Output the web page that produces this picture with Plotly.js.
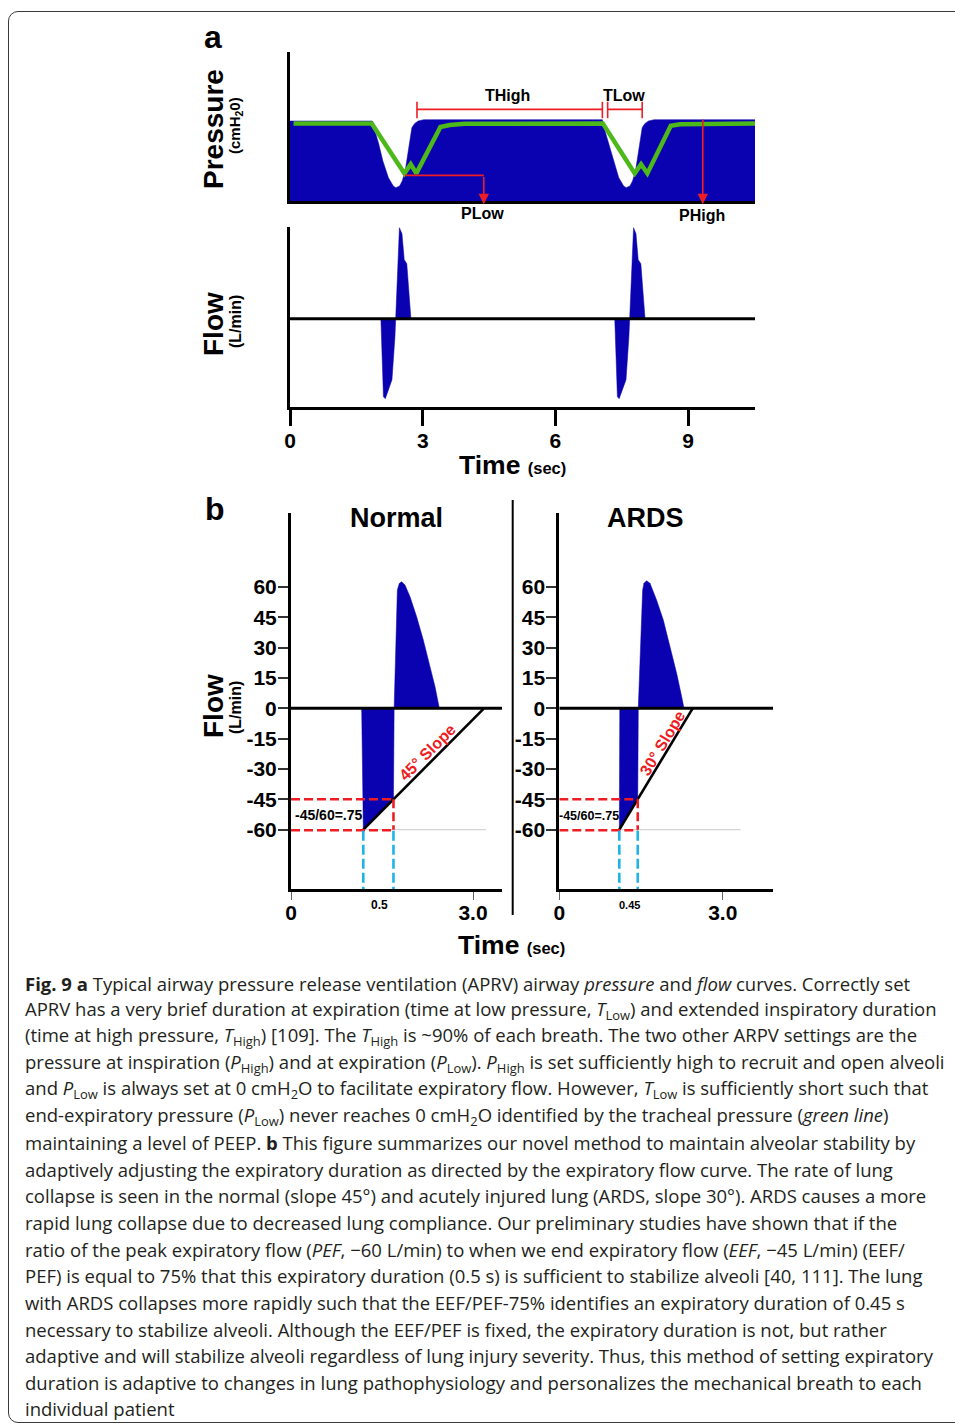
<!DOCTYPE html>
<html><head><meta charset="utf-8">
<script src="https://cdn.plot.ly/plotly-3.0.1.min.js"></script>
<style>
html,body{margin:0;padding:0;background:#fff;overflow:hidden;width:955px;height:1427px;}
#frame{position:absolute;left:8px;top:11px;width:1000px;height:1412px;border:1.5px solid #3a3a3a;border-radius:10px;box-sizing:border-box;}
#chart{position:absolute;left:0;top:0;width:955px;height:1427px;}
</style></head><body>
<div id="frame"></div>
<div id="chart"></div>
<script>
// ---------- Panel a: pressure ----------
const pressTime  = [0, 1.86, 1.92, 2.0, 2.099, 2.225, 2.334, 2.393, 2.477, 2.536, 2.603, 2.662, 2.704, 2.754, 2.813, 2.897, 3.023,
                    7.06, 7.12, 7.2, 7.305, 7.431, 7.54, 7.599, 7.683, 7.742, 7.809, 7.868, 7.91, 7.96, 8.018, 8.103, 8.229, 10.6];
const pressValue = [20, 20, 17.5, 14.5, 10, 5.83, 3.75, 3.33, 3.75, 5, 7.5, 11.67, 15.83, 18.33, 19.33, 20, 20.33,
                    20.33, 17.5, 14.5, 10, 5.83, 3.75, 3.33, 3.75, 5, 7.5, 11.67, 15.83, 18.33, 19.33, 20, 20.33, 20.33];
const trachTime  = [0.08, 1.847, 2.586, 2.729, 2.855, 3.4, 3.61, 3.946, 7.07, 7.792, 7.935, 8.077, 8.606, 8.816, 10.55];
const trachValue = [19.4, 19.4, 6.9, 9.2, 6.9, 18.5, 19.0, 19.3, 19.4, 6.9, 9.2, 6.9, 18.8, 19.2, 19.4];
const tHighSpan = [2.87, 7.06];
const tLowSpan  = [7.18, 7.96];
const spanLevel = 22.9, capTop = 24.8, capBottom = 20.7;
const pLowStart = 2.6, pLowEnd = 4.38, pLowLevel = 6.4;
const pHighTime = 9.33, pHighLevel = 20.75, arrowTip = -0.8;

// ---------- Panel a: flow ----------
const flowTime1  = [2.054, 2.079, 2.112, 2.154, 2.221, 2.305, 2.372, 2.389, 2.473, 2.531, 2.582, 2.640, 2.682, 2.733];
const flowValue1 = [0, -35, -78, -80, -71, -61, -18, 0, 91, 85, 59, 55, 32, 0];
const flowTime2  = [7.34, 7.37, 7.40, 7.44, 7.51, 7.595, 7.66, 7.68, 7.765, 7.82, 7.87, 7.93, 7.97, 8.025];
const flowValue2 = [0, -35, -78, -80, -71, -61, -18, 0, 91, 85, 59, 55, 32, 0];
const timeTicksA = [0, 3, 6, 9];
const timeTickTextA = ['0', '3', '6', '9'];

// ---------- Panel b ----------
const flowTicksB = [60, 45, 30, 15, 0, -15, -30, -45, -60];
const flowTickTextB = ['60', '45', '30', '15', '0', '-15', '-30', '-45', '-60'];
const timeTicksB = [0, 3];
const timeTickTextB = ['0', '3.0'];

const normNegTime = [1.165, 1.192, 1.689, 1.70];
const normNegFlow = [0, -60, -45, 0];
const normPosTime = [1.70, 1.753, 1.786, 1.824, 1.879, 1.962, 2.071, 2.181, 2.291, 2.374, 2.44, 2.445];
const normPosFlow = [0, 58.5, 61.8, 62.6, 61, 55.2, 45.3, 33.8, 20.6, 10.7, 0.8, 0];
const normSlopeTime = [1.192, 3.181];
const normSlopeFlow = [-60, 0];
const normBaseTime = [1.192, 3.214];
const normPEF = {t: 1.192, v: -60}, normEEF = {t: 1.689, v: -45};

const ardsNegTime = [1.11, 1.102, 1.44, 1.45];
const ardsNegFlow = [0, -60, -45, 0];
const ardsPosTime = [1.45, 1.53, 1.554, 1.603, 1.665, 1.787, 1.909, 2.032, 2.154, 2.246, 2.289];
const ardsPosFlow = [0, 58.5, 61.8, 63.1, 61.8, 53.5, 43.7, 30.5, 17.3, 5.8, 0];
const ardsSlopeTime = [1.102, 2.448];
const ardsSlopeFlow = [-60, 0];
const ardsBaseTime = [1.102, 3.329];
const ardsPEF = {t: 1.102, v: -60}, ardsEEF = {t: 1.44, v: -45};

// ---------- styling ----------
const W = 955, H = 1427;
const px = x => x / W, py = y => 1 - y / H;
const BLUE = '#0a02b0', GREEN = '#4cb81a', RED = '#ee1d23', CYAN = '#1fb3e8';
const FONT = 'Liberation Sans, Arial, sans-serif';
const CAPFONT = 'Open Sans, sans-serif';

const xRangeA = [0, 10.51];
const yRangeP = [0, 37.25];
const yRangeFA = [-88.3, 91.7];
const yRangeB = [-89.5, 96.6];
const xRangeN = [0, 3.478];
const xRangeR = [0, 3.923];

const traces = [];
function fillTrace(x, y, xa, ya, fill) {
  return {x, y, xaxis: xa, yaxis: ya, type: 'scatter', mode: 'lines', fill: fill || 'tozeroy',
          fillcolor: BLUE, line: {color: BLUE, width: 0.5}, hoverinfo: 'skip'};
}
function lineTrace(x, y, xa, ya, color, width, dash) {
  return {x, y, xaxis: xa, yaxis: ya, type: 'scatter', mode: 'lines',
          line: {color, width, dash: dash || 'solid'}, hoverinfo: 'skip', cliponaxis: false};
}
traces.push(fillTrace(pressTime, pressValue, 'x', 'y'));
traces.push(lineTrace(trachTime, trachValue, 'x', 'y', GREEN, 4.5));
traces.push(lineTrace([pLowStart, pLowEnd], [pLowLevel, pLowLevel], 'x', 'y', RED, 1.6));
traces.push(fillTrace(flowTime1, flowValue1, 'x2', 'y2'));
traces.push(fillTrace(flowTime2, flowValue2, 'x2', 'y2'));
function panelB(xa, ya, negT, negF, posT, posF, slT, slF, baseT, pef, eef) {
  traces.push(fillTrace(negT, negF, xa, ya, 'toself'));
  traces.push(fillTrace(posT, posF, xa, ya, 'tozeroy'));
  traces.push(lineTrace(baseT, [pef.v, pef.v], xa, ya, '#d4d4d4', 1.2));
  traces.push(lineTrace(slT, slF, xa, ya, '#000', 2.6));
  traces.push(lineTrace([0, eef.t], [eef.v, eef.v], xa, ya, RED, 2.6, '9px,4px'));
  traces.push(lineTrace([0, eef.t], [pef.v - 0.3, pef.v - 0.3], xa, ya, RED, 2.6, '9px,4px'));
  traces.push(lineTrace([eef.t, eef.t], [eef.v, pef.v], xa, ya, RED, 2.6, '9px,4px'));
  traces.push(lineTrace([pef.t, pef.t], [pef.v - 0.5, yRangeB[0]], xa, ya, CYAN, 2.6, '10px,4px'));
  traces.push(lineTrace([eef.t, eef.t], [pef.v - 0.5, yRangeB[0]], xa, ya, CYAN, 2.6, '10px,4px'));
}
panelB('x3', 'y3', normNegTime, normNegFlow, normPosTime, normPosFlow, normSlopeTime, normSlopeFlow, normBaseTime, normPEF, normEEF);
panelB('x4', 'y4', ardsNegTime, ardsNegFlow, ardsPosTime, ardsPosFlow, ardsSlopeTime, ardsSlopeFlow, ardsBaseTime, ardsPEF, ardsEEF);

const blank = {showgrid: false, zeroline: false, showline: true, linewidth: 3, linecolor: '#000', fixedrange: true};
const dA = [px(290), px(755)];
const tf = {family: FONT, size: 21, color: '#000', weight: 700};
const layout = {
  width: W, height: H, margin: {l: 0, r: 0, t: 0, b: 0},
  paper_bgcolor: 'rgba(0,0,0,0)', plot_bgcolor: 'rgba(0,0,0,0)', showlegend: false,
  xaxis: Object.assign({}, blank, {domain: dA, range: xRangeA, anchor: 'y', showticklabels: false, ticks: ''}),
  yaxis: Object.assign({}, blank, {domain: [py(201), py(52)], range: yRangeP, anchor: 'x', showticklabels: false, ticks: ''}),
  xaxis2: Object.assign({}, blank, {domain: dA, range: xRangeA, anchor: 'y2', tickmode: 'array', tickvals: timeTicksA, ticktext: timeTickTextA,
           ticks: 'outside', ticklen: 16, tickwidth: 3, tickcolor: '#000', tickfont: tf, ticklabelstandoff: -3}),
  yaxis2: Object.assign({}, blank, {domain: [py(407), py(227)], range: yRangeFA, anchor: 'x2', showticklabels: false, ticks: ''}),
  xaxis3: Object.assign({}, blank, {domain: [px(291), px(502)], range: xRangeN, anchor: 'y3', tickmode: 'array', tickvals: timeTicksB, ticktext: timeTickTextB,
           ticks: 'outside', ticklen: 8, tickwidth: 1, tickcolor: '#666', tickfont: tf, ticklabelstandoff: -6}),
  yaxis3: Object.assign({}, blank, {domain: [py(889.3), py(513)], range: yRangeB, anchor: 'x3', tickmode: 'array', tickvals: flowTicksB, ticktext: flowTickTextB,
           ticks: 'outside', ticklen: 10, tickwidth: 1.5, tickcolor: '#333', tickfont: tf, ticklabelstandoff: -3}),
  xaxis4: Object.assign({}, blank, {domain: [px(559.3), px(773)], range: xRangeR, anchor: 'y4', tickmode: 'array', tickvals: timeTicksB, ticktext: timeTickTextB,
           ticks: 'outside', ticklen: 8, tickwidth: 1, tickcolor: '#666', tickfont: tf, ticklabelstandoff: -6}),
  yaxis4: Object.assign({}, blank, {domain: [py(889.3), py(513)], range: yRangeB, anchor: 'x4', tickmode: 'array', tickvals: flowTicksB, ticktext: flowTickTextB,
           ticks: 'outside', ticklen: 10, tickwidth: 1.5, tickcolor: '#333', tickfont: tf, ticklabelstandoff: -3}),
  shapes: [], annotations: []
};

layout.shapes.push({type: 'line', xref: 'x2', yref: 'y2', x0: xRangeA[0], x1: xRangeA[1], y0: 0, y1: 0, line: {color: '#000', width: 3}, layer: 'above'});
layout.shapes.push({type: 'line', xref: 'x3', yref: 'y3', x0: xRangeN[0], x1: xRangeN[1], y0: 0, y1: 0, line: {color: '#000', width: 3}, layer: 'above'});
layout.shapes.push({type: 'line', xref: 'x4', yref: 'y4', x0: xRangeR[0], x1: xRangeR[1], y0: 0, y1: 0, line: {color: '#000', width: 3}, layer: 'above'});
layout.shapes.push({type: 'line', xref: 'paper', yref: 'paper', x0: px(512.7), x1: px(512.7), y0: py(500), y1: py(915), line: {color: '#000', width: 2}});
function span(a, b) {
  const s = {xref: 'x', yref: 'y', type: 'line', line: {color: RED, width: 1.6}, layer: 'above'};
  layout.shapes.push(Object.assign({}, s, {x0: a, x1: b, y0: spanLevel, y1: spanLevel}));
  layout.shapes.push(Object.assign({}, s, {x0: a, x1: a, y0: capBottom, y1: capTop}));
  layout.shapes.push(Object.assign({}, s, {x0: b, x1: b, y0: capBottom, y1: capTop}));
}
span(tHighSpan[0], tHighSpan[1]);
span(tLowSpan[0], tLowSpan[1]);

const A = layout.annotations;
function arrow(t, vFrom) {
  return {xref: 'x', yref: 'y', axref: 'x', ayref: 'y', x: t, y: arrowTip, ax: t, ay: vFrom, text: '',
          showarrow: true, arrowhead: 2, arrowsize: 1.3, arrowwidth: 1.6, arrowcolor: RED, standoff: 0};
}
A.push(arrow(pLowEnd, pLowLevel));
A.push(arrow(pHighTime, pHighLevel));

function T(text, x, y, size, opts) {
  return Object.assign({xref: 'paper', yref: 'paper', x: px(x), y: py(y), text: '<b>' + text + '</b>', showarrow: false,
    font: {family: FONT, size: size, color: '#000'}, xanchor: 'center', yanchor: 'middle'}, opts || {});
}
A.push(T('a', 213, 37, 32));
A.push(T('b', 215, 509, 32));
A.push(T('Pressure', 214, 129, 28, {textangle: -90}));
A.push(T('(cmH<sub>2</sub>0)', 235, 126, 15, {textangle: -90}));
A.push(T('Flow', 213, 324, 28, {textangle: -90}));
A.push(T('(L/min)', 235, 322, 16, {textangle: -90}));
A.push(T('Flow', 213, 706, 28, {textangle: -90}));
A.push(T('(L/min)', 235, 708, 16, {textangle: -90}));
A.push(T('THigh', 507, 95, 16));
A.push(T('TLow', 624, 95, 16));
A.push(T('PLow', 482, 214, 16));
A.push(T('PHigh', 702, 216, 16));
A.push(T('Time <span style="font-size:16.5px">(sec)</span>', 512, 465, 26.5));
A.push(T('Time <span style="font-size:16.5px">(sec)</span>', 511, 945, 26.5));
A.push(T('Normal', 396, 518, 27));
A.push(T('ARDS', 645, 518, 27));
A.push(T('-45/60=.75', 293, 815, 14, {xanchor: 'left'}));
A.push(T('-45/60=.75', 589, 816, 12.5));
A.push(T('0.5', 379, 905, 12));
A.push(T('0.45', 629, 905, 11));
A.push(T('45° Slope', 427, 752, 16, {textangle: -45, font: {family: FONT, size: 16, color: RED}}));
A.push(T('30° Slope', 662, 743, 16, {textangle: -59, font: {family: FONT, size: 16, color: RED}}));

const captionLines = [
  '<b>Fig. 9 a</b> Typical airway pressure release ventilation (APRV) airway <i>pressure</i> and <i>flow</i> curves. Correctly set',
  'APRV has a very brief duration at expiration (time at low pressure, <i>T</i><sub>Low</sub>) and extended inspiratory duration',
  '(time at high pressure, <i>T</i><sub>High</sub>) [109]. The <i>T</i><sub>High</sub> is ~90% of each breath. The two other ARPV settings are the',
  'pressure at inspiration (<i>P</i><sub>High</sub>) and at expiration (<i>P</i><sub>Low</sub>). <i>P</i><sub>High</sub> is set sufficiently high to recruit and open alveoli',
  'and <i>P</i><sub>Low</sub> is always set at 0 cmH<sub>2</sub>O to facilitate expiratory flow. However, <i>T</i><sub>Low</sub> is sufficiently short such that',
  'end-expiratory pressure (<i>P</i><sub>Low</sub>) never reaches 0 cmH<sub>2</sub>O identified by the tracheal pressure (<i>green line</i>)',
  'maintaining a level of PEEP. <b>b</b> This figure summarizes our novel method to maintain alveolar stability by',
  'adaptively adjusting the expiratory duration as directed by the expiratory flow curve. The rate of lung',
  'collapse is seen in the normal (slope 45°) and acutely injured lung (ARDS, slope 30°). ARDS causes a more',
  'rapid lung collapse due to decreased lung compliance. Our preliminary studies have shown that if the',
  'ratio of the peak expiratory flow (<i>PEF</i>, −60 L/min) to when we end expiratory flow (<i>EEF</i>, −45 L/min) (EEF/',
  'PEF) is equal to 75% that this expiratory duration (0.5 s) is sufficient to stabilize alveoli [40, 111]. The lung',
  'with ARDS collapses more rapidly such that the EEF/PEF-75% identifies an expiratory duration of 0.45 s',
  'necessary to stabilize alveoli. Although the EEF/PEF is fixed, the expiratory duration is not, but rather',
  'adaptive and will stabilize alveoli regardless of lung injury severity. Thus, this method of setting expiratory',
  'duration is adaptive to changes in lung pathophysiology and personalizes the mechanical breath to each',
  'individual patient'
];
captionLines.forEach((line, i) => {
  A.push({xref: 'paper', yref: 'paper', x: px(23), y: py(983 + i * 26.62), text: line, showarrow: false,
    xanchor: 'left', yanchor: 'middle', font: {family: CAPFONT, size: 18.5, color: '#231f20'}});
});

Plotly.newPlot('chart', traces, layout, {displayModeBar: false});
</script></body></html>
